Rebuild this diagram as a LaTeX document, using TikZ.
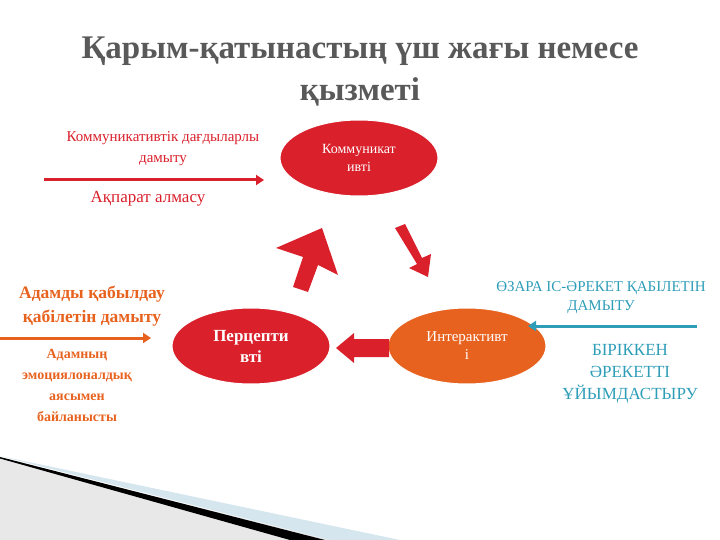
\documentclass[tikz,border=0pt]{standalone}
\usepackage{fontspec}
\setmainfont{Liberation Serif}
\usetikzlibrary{arrows.meta,shapes.geometric}
\definecolor{cred}{HTML}{D9202B}
\definecolor{corg}{HTML}{E8621F}
\definecolor{cblue}{HTML}{2E9DB8}
\definecolor{ctitle}{HTML}{595959}
\definecolor{cband}{HTML}{D6E6EE}
\begin{document}
\begin{tikzpicture}[x=1pt,y=-1pt,
  ell/.style={ellipse,draw=white,line width=1pt,minimum width=158pt,minimum height=76pt,text=white,align=center,inner sep=0pt},
  lab/.style={align=center,inner sep=0pt}]
\useasboundingbox (0,0) rectangle (720,540);
% bottom-left decoration
\fill[gray!18] (0,458) -- (330,540) -- (0,540) -- cycle;
\fill[cband] (0,456) -- (400,540) -- (330,540) -- cycle;
\fill[black] (0,457) -- (325,540) -- (290,540) -- (0,458.5) -- cycle;
% title
\node[lab,text=ctitle,font=\bfseries\fontsize{33}{42}\selectfont] (title) at (360,72) {Қарым-қатынастың үш жағы немесе\\қызметі};
% ellipses
\node[ell,fill=cred,font=\fontsize{14}{18}\selectfont] (k) at (359,158) {Коммуникат\\ивті};
\node[ell,fill=cred,font=\bfseries\fontsize{17}{21}\selectfont] (p) at (251,346) {Перцепти\\вті};
\node[ell,fill=corg,font=\fontsize{15}{18}\selectfont] (i) at (467,346) {Интерактивт\\і};
% block arrows
\fill[cred] (389,339) -- (354,339) -- (354,333) -- (336,348) -- (354,363) -- (354,357) -- (389,357) -- cycle;
\fill[cred] (293,287) -- (303,257) -- (276,248) -- (322,228) -- (338,275) -- (318,265) -- (308,292) -- cycle;
\fill[cred] (395,228) -- (405,224) -- (422,258) -- (431,254) -- (428,277) -- (409,268) -- (417,264) -- cycle;
% line arrows
\coordinate (a1) at (44,180);
\draw[cred,line width=3pt,-{Triangle[length=8pt,width=10pt]}] (a1) -- (264,180);
\coordinate (a2) at (0,338);
\draw[corg,line width=3pt,-{Triangle[length=8pt,width=10pt]}] (a2) -- (151,338);
\coordinate (a3) at (697,326);
\draw[cblue,line width=3pt,-{Triangle[length=8pt,width=10pt]}] (a3) -- (528,326);
% labels
\node[lab,text=cred,font=\fontsize{15}{21}\selectfont] (t1) at (163,149) {Коммуникативтік дағдыларлы\\дамыту};
\node[lab,text=cred,font=\fontsize{17}{19}\selectfont] (t2) at (148,199) {Ақпарат алмасу};
\node[lab,text=corg,font=\bfseries\fontsize{17.5}{24}\selectfont] (t3) at (92,306) {Адамды қабылдау\\ қабілетін дамыту};
\node[lab,text=corg,font=\bfseries\fontsize{14}{21}\selectfont] (t4) at (77,385) {Адамның\\эмоциялоналдық\\аясымен\\ байланысты};
\node[lab,text=cblue,font=\fontsize{15}{19}\selectfont] (t5) at (601,298) {ӨЗАРА ІС-ӘРЕКЕТ ҚАБІЛЕТІН\\ДАМЫТУ};
\node[lab,text=cblue,font=\fontsize{17}{22}\selectfont] (t6) at (630,374) {БІРІККЕН\\ӘРЕКЕТТІ\\ҰЙЫМДАСТЫРУ};
\end{tikzpicture}
\end{document}
